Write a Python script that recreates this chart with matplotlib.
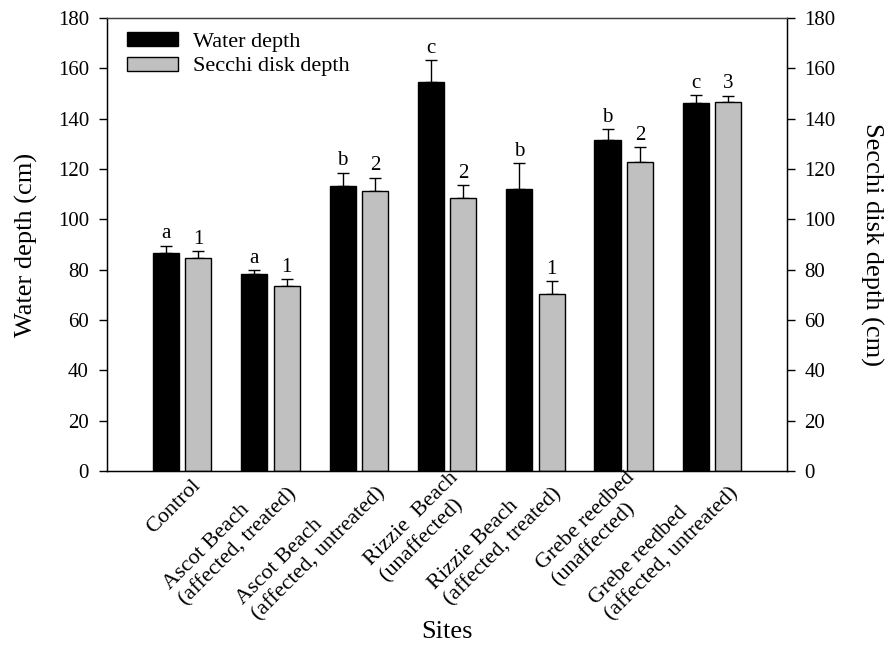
import matplotlib
matplotlib.use("Agg")
import matplotlib.pyplot as plt
import matplotlib.transforms as mtransforms
import numpy as np

sites = ["Control", "Ascot Beach\n(affected, treated)", "Ascot Beach\n(affected, untreated)",
         "Rizzie  Beach\n(unaffected)", "Rizzie Beach\n(affected, treated)",
         "Grebe reedbed\n(unaffected)", "Grebe reedbed\n(affected, untreated)"]
water_depth = [86.7, 78.4, 113.4, 154.6, 112.1, 131.7, 146.2]
water_err = [2.9, 1.6, 5.2, 8.8, 10.4, 4.1, 3.1]
secchi_depth = [84.6, 73.4, 111.2, 108.4, 70.3, 122.7, 146.6]
secchi_err = [2.8, 2.9, 5.4, 5.3, 5.2, 6.0, 2.6]
water_letters = ["a", "a", "b", "c", "b", "b", "c"]
secchi_letters = ["1", "1", "2", "2", "1", "2", "3"]
yticks = [0, 20, 40, 60, 80, 100, 120, 140, 160, 180]

plt.rcParams['font.family'] = ['Liberation Serif', 'DejaVu Serif']

W, H = 886, 646
fig = plt.figure(figsize=(W / 100, H / 100), dpi=100)
L, R, B, T = 106.7, 786.7, 471.0, 18.0
ax = fig.add_axes([L / W, 1 - B / H, (R - L) / W, (B - T) / H])

x = np.arange(len(sites))
w = 0.295
off = 0.184
ekw = dict(elinewidth=1.0, capthick=1.0, capsize=4.6, ecolor='black')
ax.bar(x - off, water_depth, w, color='black', edgecolor='black', linewidth=1.0,
       label='Water depth', zorder=2)
ax.errorbar(x - off, water_depth, yerr=[np.zeros(len(x)), water_err], fmt='none', zorder=1, **ekw)
ax.bar(x + off, secchi_depth, w, color='#c0c0c0', edgecolor='black', linewidth=1.0,
       label='Secchi disk depth', zorder=2)
ax.errorbar(x + off, secchi_depth, yerr=[np.zeros(len(x)), secchi_err], fmt='none', zorder=1, **ekw)

for i in range(len(x)):
    ax.annotate(water_letters[i], (x[i] - off, water_depth[i] + water_err[i]),
                xytext=(0, 1.5), textcoords='offset points', ha='center', va='bottom', fontsize=15)
    ax.annotate(secchi_letters[i], (x[i] + off, secchi_depth[i] + secchi_err[i]),
                xytext=(0, 1.5), textcoords='offset points', ha='center', va='bottom', fontsize=15)

ax.set_xlim(-0.855, 6.845)
ax.set_ylim(0, 180)
ax.set_yticks(yticks)
ax.tick_params(axis='y', labelsize=15, direction='out', length=5.8, width=1, pad=7)
ax.set_xticks(x)
ax.set_xticklabels(sites, rotation=45, ha='right', va='center', rotation_mode='anchor',
                   fontsize=16, multialignment='left')
ax.tick_params(axis='x', length=0, pad=0)
shift = mtransforms.ScaledTranslation(0.16, -0.12, fig.dpi_scale_trans)
for lab in ax.get_xticklabels():
    lab.set_transform(lab.get_transform() + shift)
for s in ['left', 'right', 'bottom', 'top']:
    ax.spines[s].set_linewidth(1.0)
ax.spines['top'].set_color('#404040')
ax.set_ylabel('Water depth (cm)', fontsize=19, va='center')
ax.yaxis.set_label_coords((26 - L) / (R - L), 0.5)
ax.set_xlabel('Sites', fontsize=19, va='center')
ax.xaxis.set_label_coords(0.5, -(632 - B) / (B - T))

ax2 = ax.twinx()
ax2.set_ylim(0, 180)
ax2.set_yticks(yticks)
ax2.tick_params(axis='y', labelsize=15, direction='out', length=5.8, width=1, pad=7)
ax2.spines['top'].set_color('#404040')
ax2.set_ylabel('Secchi disk depth (cm)', fontsize=19, rotation=-90, va='center')
ax2.yaxis.set_label_coords((872 - L) / (R - L), 0.5)

ax.legend(loc='upper left', bbox_to_anchor=(0.0163, 0.988), borderaxespad=0, frameon=False,
          fontsize=16, handlelength=2.3, handleheight=0.59, handletextpad=0.68,
          labelspacing=0.2)

fig.savefig('out.png', dpi=100)
